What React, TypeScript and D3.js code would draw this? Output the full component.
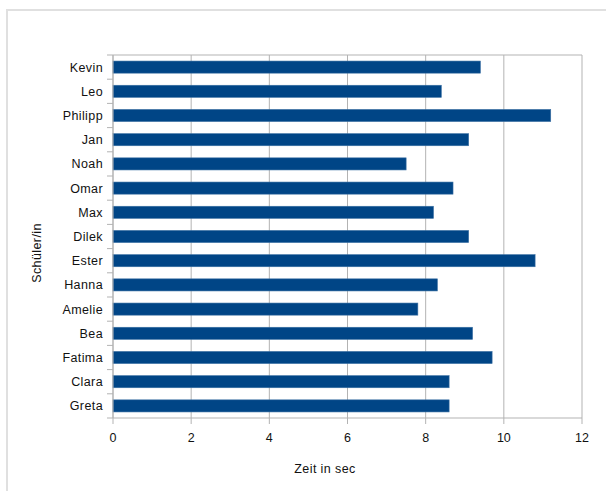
import React from "react";
import * as d3 from "d3";

const students = [
  "Kevin", "Leo", "Philipp", "Jan", "Noah", "Omar", "Max", "Dilek",
  "Ester", "Hanna", "Amelie", "Bea", "Fatima", "Clara", "Greta",
];
const times = [9.4, 8.4, 11.2, 9.1, 7.5, 8.7, 8.2, 9.1, 10.8, 8.3, 7.8, 9.2, 9.7, 8.6, 8.6];
const xTicks = [0, 2, 4, 6, 8, 10, 12];
const xTitle = "Zeit in sec";
const yTitle = "Schüler/in";

const W = 606;
const H = 491;
const left = 113;
const right = 582;
const top = 55;
const bottom = 418;

const FONT = "'Liberation Sans', Arial, sans-serif";
const GRID = "#b3b3b3";
const BAR = "#004586";
const TEXT = "#111";

export default function App() {
  const x = d3.scaleLinear().domain([0, 12]).range([left, right]);
  const y = d3
    .scaleBand<string>()
    .domain(students)
    .range([top, bottom])
    .paddingInner(0.5)
    .paddingOuter(0.25);
  const step = y.step();
  const boundaries = d3.range(students.length + 1).map((i) => top + i * step);

  return (
    <svg
      width={W}
      height={H}
      style={{ position: "absolute", left: 0, top: 0, background: "#fff" }}
      fontFamily={FONT}
    >
      {/* chart frame */}
      <rect x={7} y={10} width={W + 10} height={H + 10} fill="#fff" stroke="#e0e0e0" strokeWidth={2} />

      {/* vertical grid */}
      {xTicks.map((t) => (
        <line key={"g" + t} x1={x(t)} x2={x(t)} y1={top} y2={bottom} stroke={GRID} strokeWidth={1} />
      ))}
      <line x1={left} x2={right} y1={top} y2={top} stroke={GRID} />

      {/* bars */}
      {students.map((s, i) => (
        <rect
          key={s}
          x={x(0)}
          y={y(s)!}
          width={x(times[i]) - x(0)}
          height={y.bandwidth()}
          fill={BAR}
          stroke="#3a6fa3"
          strokeWidth={0.6}
        />
      ))}

      {/* axes */}
      <line x1={left} x2={left} y1={top} y2={bottom} stroke={GRID} />
      <line x1={left} x2={right} y1={bottom} y2={bottom} stroke={GRID} />
      {boundaries.map((b, i) => (
        <line key={"yt" + i} x1={left - 6} x2={left} y1={b} y2={b} stroke={GRID} />
      ))}
      {xTicks.map((t) => (
        <line key={"xt" + t} x1={x(t)} x2={x(t)} y1={bottom} y2={bottom + 6} stroke={GRID} />
      ))}

      {/* category labels */}
      {students.map((s) => (
        <text
          key={"l" + s}
          x={103}
          y={y(s)! + y.bandwidth() / 2}
          dy="0.36em"
          textAnchor="end"
          fontSize={12.5}
          letterSpacing={0.4}
          fill={TEXT}
        >
          {s}
        </text>
      ))}

      {/* x tick labels */}
      {xTicks.map((t) => (
        <text key={"xl" + t} x={x(t)} y={442} textAnchor="middle" fontSize={12.5} fill={TEXT}>
          {t}
        </text>
      ))}

      <text x={325} y={473} textAnchor="middle" fontSize={12.5} letterSpacing={0.4} fill={TEXT}>
        {xTitle}
      </text>
      <text
        transform={`translate(41,253) rotate(-90)`}
        textAnchor="middle"
        fontSize={12.5}
        letterSpacing={0.4}
        fill={TEXT}
      >
        {yTitle}
      </text>
    </svg>
  );
}
